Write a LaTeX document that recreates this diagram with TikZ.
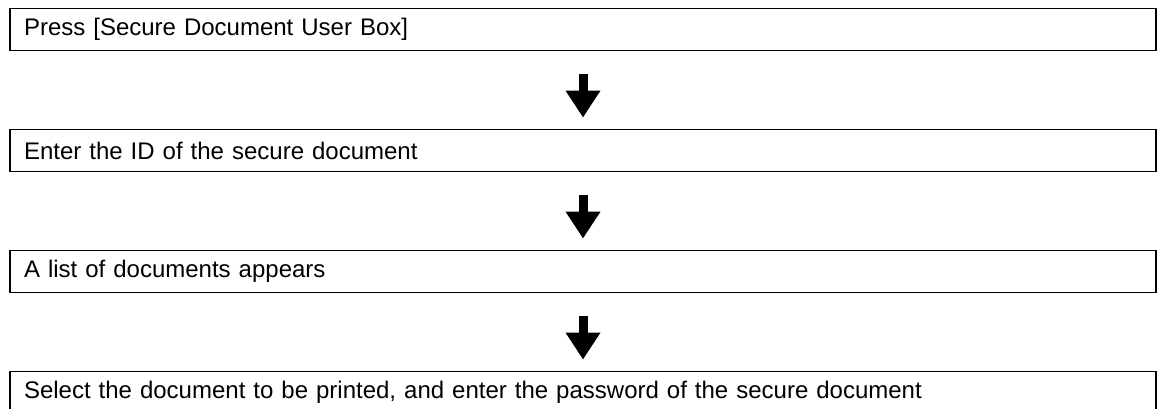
\documentclass[tikz,border=0pt]{standalone}
\usepackage{fontspec}
\setmainfont{Liberation Sans}
\usetikzlibrary{arrows.meta}
\tikzset{
  stepbox/.style={draw=black, line width=1.8pt, rectangle, minimum height=42pt,
    text width=1118pt, inner xsep=14pt, inner ysep=0pt, align=left,
    font=\fontsize{24}{28}\selectfont, anchor=center},
  bigarrow/.style={line width=9pt, -{Triangle[width=33pt,length=27pt]}}
}
\begin{document}
\begin{tikzpicture}[x=1pt,y=-1pt]
\useasboundingbox (0,0) rectangle (1158,408);
\clip (0,0) rectangle (1158,408);
\node[stepbox] (b1) at (583,29.5) {Press [Secure Document User Box]};
\node[stepbox] (b2) at (583,150.5) {Enter the ID of the secure document};
\node[stepbox] (b3) at (583,271.5) {A list of documents appears};
\node[stepbox] (b4) at (583,392.5) {Select the document to be printed, and enter the password of the secure document};
\draw[bigarrow] ([yshift=-23pt]b1.south) -- ([yshift=11pt]b2.north);
\draw[bigarrow] ([yshift=-23pt]b2.south) -- ([yshift=11pt]b3.north);
\draw[bigarrow] ([yshift=-23pt]b3.south) -- ([yshift=11pt]b4.north);
\end{tikzpicture}
\end{document}
